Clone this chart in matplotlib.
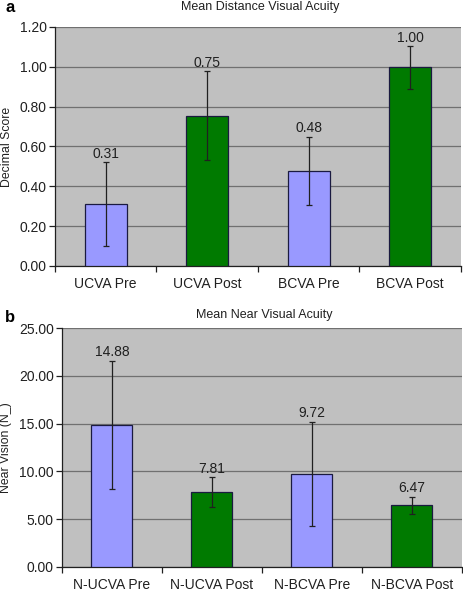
import matplotlib
matplotlib.use("Agg")
import matplotlib.pyplot as plt
import numpy as np

plt.rcParams['font.family'] = ['Liberation Sans', 'DejaVu Sans']

cats_a = ["UCVA Pre", "UCVA Post", "BCVA Pre", "BCVA Post"]
vals_a = [0.31, 0.755, 0.478, 0.997]
labels_a = ["0.31", "0.75", "0.48", "1.00"]
err_a = [0.21, 0.222, 0.172, 0.108]

cats_b = ["N-UCVA Pre", "N-UCVA Post", "N-BCVA Pre", "N-BCVA Post"]
vals_b = [14.88, 7.81, 9.72, 6.47]
labels_b = ["14.88", "7.81", "9.72", "6.47"]
err_b = [6.7, 1.57, 5.46, 0.9]

colors = ["#9999FF", "#007A00", "#9999FF", "#007A00"]

W, H = 464, 591
fig = plt.figure(figsize=(W/100, H/100), dpi=100)

def make(ax_rect, cats, vals, labels, errs, ymax, ystep, title, ylabel, panel, title_y, panel_y):
    l, t, r, b = ax_rect
    ax = fig.add_axes([l/W, 1-b/H, (r-l)/W, (b-t)/H])
    ax.set_facecolor("#C0C0C0")
    x = np.arange(len(cats))
    ax.bar(x, vals, width=0.41, color=colors, edgecolor="#1a1a40", linewidth=0.9, zorder=3)
    ax.errorbar(x, vals, yerr=errs, fmt="none", ecolor="#202020", elinewidth=0.9,
                capsize=2.5, capthick=0.9, zorder=4)
    for xi, v, e, lab in zip(x, vals, errs, labels):
        ax.annotate(lab, (xi, v+e), xytext=(0, 1), textcoords="offset points",
                    ha="center", va="bottom", fontsize=10, color="#202020")
    ax.set_xlim(-0.5, len(cats)-0.5)
    ax.set_ylim(0, ymax)
    yt = np.arange(0, ymax+ystep/2, ystep)
    ax.set_yticks(yt)
    ax.set_yticklabels([f"{v:.2f}" for v in yt], fontsize=10, color="#202020")
    ax.yaxis.grid(True, color="#707070", linewidth=0.9, zorder=0)
    ax.set_axisbelow(True)
    ax.set_xticks(x)
    ax.set_xticklabels(cats, fontsize=10, color="#202020")
    ax.tick_params(axis="x", length=0, pad=8)
    ax.set_xticks(np.arange(-0.5, len(cats)), minor=True)
    ax.tick_params(axis="x", which="minor", length=4, width=0.9, color="#202020")
    ax.tick_params(axis="y", length=4, width=0.9, color="#202020", pad=2)
    for s in ["top", "right"]:
        ax.spines[s].set_visible(False)
    for s in ["left", "bottom"]:
        ax.spines[s].set_color("#202020")
        ax.spines[s].set_linewidth(0.9)
    ax.set_ylabel(ylabel, fontsize=8.8, color="#202020", labelpad=5)
    fig.text(0.5*(l+r)/W + 0.005, 1-title_y/H, title, ha="center", va="center", fontsize=9, color="#202020")
    fig.text(5/W, 1-panel_y/H, panel, ha="left", va="center", fontsize=12, fontweight="bold")
    return ax

make((55, 27, 461, 266), cats_a, vals_a, labels_a, err_a, 1.2, 0.2,
     "Mean Distance Visual Acuity", "Decimal Score", "a", 7, 7)
make((62, 328, 462, 567), cats_b, vals_b, labels_b, err_b, 25, 5,
     "Mean Near Visual Acuity", "Near Vision (N_)", "b", 315, 318)

fig.savefig("out.png", dpi=100)
